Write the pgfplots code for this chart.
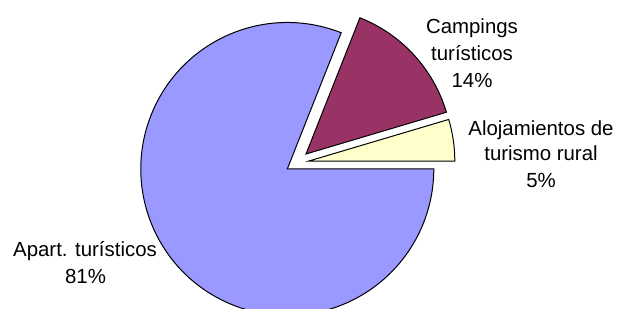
\documentclass[border=0pt]{standalone}
\usepackage{pgfplots}
\pgfplotsset{compat=1.18}
\usepackage{fontspec}
\setmainfont{Liberation Sans}
\definecolor{cblue}{HTML}{9999FF}
\definecolor{cmaroon}{HTML}{993366}
\definecolor{cyellow}{HTML}{FFFFCC}
% slice values (percent) and explode offsets (data units = bp)
\def\vApart{81.0}
\def\vCamp{14.4}
\def\vAloj{4.6}
\def\cx{287.3}
\def\cy{140}
\def\rad{146.5bp}
\begin{document}
\begin{tikzpicture}
\begin{axis}[width=617bp,height=309bp,scale only axis,
  xmin=0,xmax=617,ymin=0,ymax=309,hide axis,clip=true]
\pgfmathsetmacro{\aA}{\vAloj*3.6}
\pgfmathsetmacro{\aB}{\aA+\vCamp*3.6}
\pgfmathsetmacro{\aC}{\aB+\vApart*3.6}
% Apart. turisticos
\draw[fill=cblue,line width=1bp,line join=miter] (axis cs:\cx,\cy) -- ++(\aB:\rad)
  arc[start angle=\aB,end angle=\aC,radius=\rad] -- cycle;
% Campings
\draw[fill=cmaroon,line width=1bp,line join=miter] (axis cs:\cx+18.7,\cy+15) -- ++(\aA:\rad)
  arc[start angle=\aA,end angle=\aB,radius=\rad] -- cycle;
% Alojamientos
\draw[fill=cyellow,line width=1bp,line join=miter] (axis cs:\cx+21,\cy+7.8) -- ++(0:\rad)
  arc[start angle=0,end angle=\aA,radius=\rad] -- cycle;
\tikzset{lbl/.style={anchor=base,inner sep=0pt,font=\fontsize{20.4bp}{26bp}\selectfont}}
\node[lbl] at (axis cs:472,275.7) {Campings};
\node[lbl] at (axis cs:472,248.5) {turísticos};
\node[lbl] at (axis cs:472,221.7) {14\%};
\node[lbl] at (axis cs:541,173) {Alojamientos de};
\node[lbl] at (axis cs:541,148) {turismo rural};
\node[lbl] at (axis cs:541,121.5) {5\%};
\node[lbl] at (axis cs:85,52.3) {Apart. turísticos};
\node[lbl] at (axis cs:85.5,26) {81\%};
\end{axis}
\pgfresetboundingbox
\path (current axis.south west) rectangle (current axis.north east);
\end{tikzpicture}
\end{document}
